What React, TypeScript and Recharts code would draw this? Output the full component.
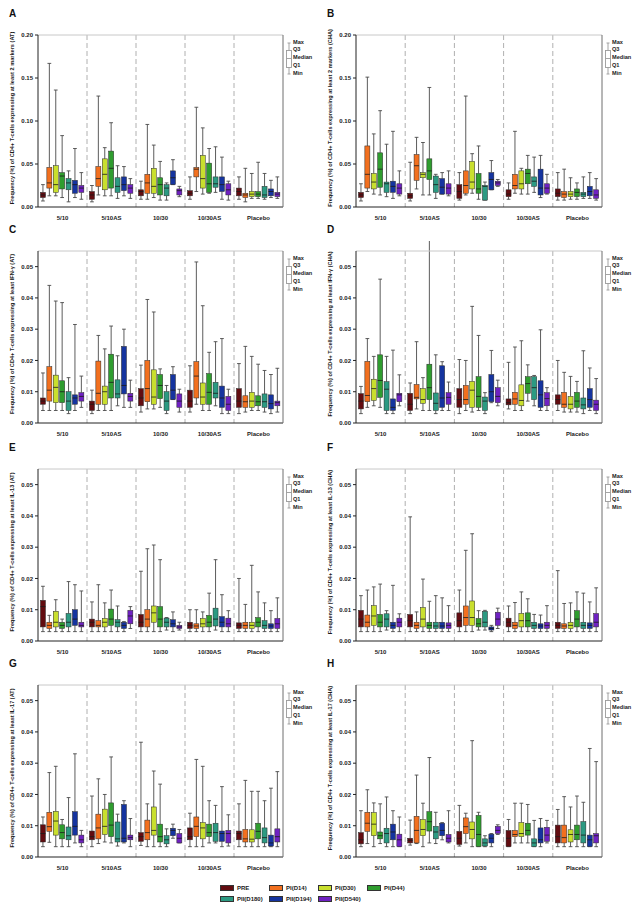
import { Bar, BarChart, CartesianGrid, XAxis, YAxis } from "recharts";

// [min, Q1, median, Q3, max]
type Box = [number, number, number, number, number];

const GROUPS = ["5/10", "5/10AS", "10/30", "10/30AS", "Placebo"];
const TIMEPOINTS = ["PRE", "PI(D14)", "PI(D30)", "PI(D44)", "PII(D180)", "PII(D194)", "PII(D540)"];
const COLORS = ["#620c10", "#f2701f", "#c9df2e", "#2f9d2f", "#2c9a82", "#15349f", "#6f21c2"];

const MARKER_TICKS = [0, 0.05, 0.1, 0.15, 0.2];
const CYTO_TICKS = [0, 0.01, 0.02, 0.03, 0.04, 0.05];

const TITLES = [
  "Frequency (%) of CD4+ T-cells expressing at least 2 markers (AT)",
  "Frequency (%) of CD4+ T-cells expressing at least 2 markers (CHA)",
  "Frequency (%) of CD4+ T-cells expressing at least IFN-γ (AT)",
  "Frequency (%) of CD4+ T-cells expressing at least IFN-γ (CHA)",
  "Frequency (%) of CD4+ T-cells expressing at least IL-13 (AT)",
  "Frequency (%) of CD4+ T-cells expressing at least IL-13 (CHA)",
  "Frequency (%) of CD4+ T-cells expressing at least IL-17 (AT)",
  "Frequency (%) of CD4+ T-cells expressing at least IL-17 (CHA)",
];
const LETTERS = ["A", "B", "C", "D", "E", "F", "G", "H"];

// each panel: 5 groups x 7 timepoints
const PANEL_A: Box[][] = [
  [[0.007, 0.011, 0.014, 0.017, 0.026], [0.013, 0.022, 0.028, 0.046, 0.167], [0.013, 0.017, 0.026, 0.048, 0.136], [0.011, 0.021, 0.036, 0.04, 0.083], [0.006, 0.02, 0.028, 0.033, 0.042], [0.011, 0.016, 0.026, 0.031, 0.068], [0.009, 0.017, 0.022, 0.025, 0.04]],
  [[0.006, 0.009, 0.014, 0.018, 0.025], [0.014, 0.024, 0.033, 0.047, 0.129], [0.013, 0.02, 0.038, 0.056, 0.069], [0.013, 0.022, 0.045, 0.065, 0.098], [0.01, 0.017, 0.024, 0.034, 0.048], [0.013, 0.019, 0.026, 0.035, 0.047], [0.01, 0.016, 0.022, 0.026, 0.033]],
  [[0.009, 0.013, 0.018, 0.02, 0.03], [0.009, 0.016, 0.028, 0.038, 0.096], [0.011, 0.016, 0.024, 0.045, 0.072], [0.008, 0.014, 0.026, 0.034, 0.053], [0.008, 0.013, 0.022, 0.026, 0.028], [0.026, 0.026, 0.034, 0.042, 0.055], [0.012, 0.014, 0.019, 0.021, 0.024]],
  [[0.009, 0.013, 0.016, 0.019, 0.035], [0.018, 0.035, 0.044, 0.046, 0.116], [0.015, 0.022, 0.033, 0.06, 0.092], [0.016, 0.017, 0.027, 0.051, 0.068], [0.017, 0.023, 0.027, 0.035, 0.07], [0.009, 0.018, 0.026, 0.035, 0.058], [0.008, 0.014, 0.02, 0.027, 0.03]],
  [[0.009, 0.013, 0.018, 0.022, 0.035], [0.006, 0.011, 0.014, 0.016, 0.045], [0.01, 0.012, 0.015, 0.018, 0.039], [0.01, 0.012, 0.015, 0.018, 0.052], [0.009, 0.011, 0.014, 0.024, 0.039], [0.011, 0.013, 0.018, 0.021, 0.031], [0.01, 0.012, 0.015, 0.017, 0.035]],
];

const PANEL_B: Box[][] = [
  [[0.007, 0.011, 0.014, 0.017, 0.027], [0.018, 0.022, 0.038, 0.071, 0.151], [0.015, 0.021, 0.029, 0.039, 0.085], [0.014, 0.023, 0.044, 0.063, 0.112], [0.012, 0.017, 0.027, 0.029, 0.073], [0.01, 0.017, 0.024, 0.03, 0.088], [0.013, 0.015, 0.022, 0.027, 0.042]],
  [[0.007, 0.01, 0.013, 0.016, 0.052], [0.021, 0.031, 0.048, 0.061, 0.081], [0.014, 0.034, 0.038, 0.04, 0.075], [0.014, 0.032, 0.042, 0.056, 0.139], [0.01, 0.017, 0.026, 0.036, 0.038], [0.015, 0.015, 0.023, 0.033, 0.04], [0.013, 0.015, 0.022, 0.027, 0.042]],
  [[0.008, 0.01, 0.018, 0.026, 0.04], [0.014, 0.016, 0.025, 0.042, 0.129], [0.016, 0.021, 0.029, 0.053, 0.062], [0.009, 0.016, 0.021, 0.039, 0.071], [0.008, 0.008, 0.024, 0.025, 0.029], [0.02, 0.02, 0.032, 0.04, 0.054], [0.024, 0.025, 0.028, 0.03, 0.032]],
  [[0.009, 0.012, 0.015, 0.02, 0.028], [0.016, 0.021, 0.025, 0.038, 0.088], [0.015, 0.021, 0.027, 0.042, 0.045], [0.015, 0.027, 0.039, 0.044, 0.06], [0.017, 0.024, 0.03, 0.035, 0.058], [0.011, 0.014, 0.022, 0.044, 0.06], [0.015, 0.016, 0.022, 0.027, 0.038]],
  [[0.008, 0.012, 0.016, 0.021, 0.04], [0.008, 0.011, 0.015, 0.018, 0.044], [0.009, 0.012, 0.015, 0.018, 0.034], [0.009, 0.012, 0.017, 0.021, 0.028], [0.01, 0.012, 0.015, 0.017, 0.035], [0.01, 0.013, 0.018, 0.024, 0.04], [0.008, 0.01, 0.014, 0.02, 0.033]],
];

const PANEL_C: Box[][] = [
  [[0.004, 0.006, 0.007, 0.008, 0.016], [0.004, 0.007, 0.0105, 0.018, 0.044], [0.004, 0.0065, 0.0114, 0.0153, 0.039], [0.004, 0.0065, 0.01, 0.0135, 0.0385], [0.003, 0.004, 0.007, 0.01, 0.0145], [0.004, 0.006, 0.008, 0.009, 0.0315], [0.005, 0.007, 0.0085, 0.0097, 0.015]],
  [[0.003, 0.004, 0.006, 0.007, 0.0105], [0.004, 0.006, 0.0095, 0.0198, 0.028], [0.004, 0.006, 0.01, 0.0118, 0.0237], [0.004, 0.008, 0.013, 0.022, 0.031], [0.0055, 0.008, 0.0093, 0.0138, 0.0215], [0.005, 0.0093, 0.012, 0.0245, 0.03], [0.005, 0.007, 0.0085, 0.0095, 0.0137]],
  [[0.0035, 0.0055, 0.008, 0.011, 0.0185], [0.0045, 0.0068, 0.011, 0.02, 0.0395], [0.0045, 0.006, 0.0083, 0.017, 0.0355], [0.005, 0.0078, 0.012, 0.0155, 0.0173], [0.003, 0.004, 0.007, 0.01, 0.012], [0.0075, 0.0075, 0.0105, 0.0155, 0.018], [0.0035, 0.005, 0.007, 0.0093, 0.0108]],
  [[0.0035, 0.005, 0.007, 0.0105, 0.0183], [0.006, 0.008, 0.015, 0.0196, 0.0515], [0.004, 0.006, 0.0083, 0.0128, 0.0375], [0.004, 0.006, 0.0098, 0.0158, 0.0226], [0.0055, 0.008, 0.0095, 0.013, 0.026], [0.003, 0.005, 0.008, 0.0118, 0.027], [0.003, 0.004, 0.006, 0.0085, 0.0108]],
  [[0.003, 0.005, 0.007, 0.011, 0.019], [0.0035, 0.005, 0.0068, 0.0087, 0.0245], [0.004, 0.005, 0.007, 0.0098, 0.0213], [0.004, 0.0055, 0.0068, 0.0087, 0.0188], [0.0035, 0.005, 0.0068, 0.0093, 0.0168], [0.003, 0.0045, 0.0062, 0.009, 0.0155], [0.0035, 0.0055, 0.0065, 0.007, 0.0175]],
];

const PANEL_D: Box[][] = [
  [[0.003, 0.0045, 0.007, 0.0094, 0.0117], [0.005, 0.0068, 0.0088, 0.0197, 0.027], [0.0055, 0.0072, 0.011, 0.014, 0.0213], [0.005, 0.0082, 0.0136, 0.0218, 0.046], [0.003, 0.004, 0.0108, 0.0132, 0.0213], [0.003, 0.004, 0.005, 0.0077, 0.0233], [0.0055, 0.0068, 0.009, 0.0095, 0.0154]],
  [[0.003, 0.004, 0.006, 0.0095, 0.0128], [0.0045, 0.0077, 0.0082, 0.0123, 0.026], [0.004, 0.0063, 0.0075, 0.011, 0.0145], [0.004, 0.0075, 0.0113, 0.0188, 0.0643], [0.003, 0.004, 0.0063, 0.0096, 0.0218], [0.004, 0.005, 0.008, 0.0183, 0.0196], [0.004, 0.006, 0.0082, 0.0097, 0.0131]],
  [[0.003, 0.005, 0.0075, 0.011, 0.0203], [0.004, 0.006, 0.0075, 0.012, 0.02], [0.0035, 0.005, 0.0105, 0.0133, 0.0373], [0.004, 0.005, 0.0085, 0.0148, 0.028], [0.003, 0.004, 0.007, 0.0083, 0.0097], [0.0065, 0.0068, 0.01, 0.0155, 0.0232], [0.0055, 0.0065, 0.0085, 0.0113, 0.0137]],
  [[0.0045, 0.0058, 0.0065, 0.0077, 0.0194], [0.004, 0.006, 0.0077, 0.0098, 0.0243], [0.004, 0.0055, 0.0072, 0.0122, 0.0263], [0.007, 0.0095, 0.0126, 0.0148, 0.0186], [0.0055, 0.0075, 0.0113, 0.0148, 0.0152], [0.004, 0.005, 0.009, 0.0135, 0.0298], [0.004, 0.0055, 0.0078, 0.0097, 0.0113]],
  [[0.004, 0.006, 0.0075, 0.009, 0.02], [0.0035, 0.005, 0.006, 0.0098, 0.0162], [0.0035, 0.0045, 0.006, 0.0085, 0.0149], [0.0035, 0.005, 0.007, 0.0098, 0.0133], [0.003, 0.0045, 0.0058, 0.008, 0.0231], [0.004, 0.005, 0.0075, 0.011, 0.0176], [0.003, 0.004, 0.006, 0.0073, 0.0142]],
];

const PANEL_E: Box[][] = [
  [[0.003, 0.0045, 0.011, 0.013, 0.0175], [0.003, 0.004, 0.005, 0.006, 0.0082], [0.003, 0.0045, 0.006, 0.0095, 0.0132], [0.003, 0.004, 0.005, 0.006, 0.007], [0.003, 0.0045, 0.006, 0.0088, 0.019], [0.003, 0.005, 0.007, 0.01, 0.018], [0.003, 0.0045, 0.005, 0.006, 0.016]],
  [[0.003, 0.0045, 0.006, 0.007, 0.0125], [0.003, 0.0045, 0.005, 0.0065, 0.018], [0.003, 0.0045, 0.006, 0.0072, 0.0122], [0.003, 0.005, 0.007, 0.0102, 0.0163], [0.003, 0.0045, 0.006, 0.0068, 0.0112], [0.003, 0.004, 0.005, 0.006, 0.0062], [0.004, 0.0055, 0.008, 0.0098, 0.011]],
  [[0.003, 0.0045, 0.006, 0.0085, 0.0223], [0.003, 0.0045, 0.007, 0.01, 0.0295], [0.003, 0.006, 0.009, 0.0112, 0.0307], [0.003, 0.0045, 0.007, 0.011, 0.026], [0.0035, 0.0045, 0.006, 0.0073, 0.0075], [0.003, 0.0045, 0.0055, 0.0068, 0.0093], [0.0035, 0.004, 0.0045, 0.005, 0.006]],
  [[0.003, 0.004, 0.005, 0.006, 0.01], [0.003, 0.004, 0.0048, 0.0055, 0.01], [0.003, 0.0045, 0.0055, 0.0072, 0.0093], [0.003, 0.0045, 0.006, 0.0082, 0.0153], [0.0035, 0.0048, 0.007, 0.0105, 0.026], [0.003, 0.0045, 0.006, 0.0078, 0.0148], [0.003, 0.0045, 0.0055, 0.0073, 0.0097]],
  [[0.003, 0.004, 0.005, 0.0058, 0.02], [0.003, 0.004, 0.005, 0.006, 0.0117], [0.003, 0.004, 0.005, 0.006, 0.0242], [0.003, 0.0045, 0.006, 0.0075, 0.0157], [0.003, 0.004, 0.005, 0.0065, 0.0122], [0.003, 0.004, 0.0048, 0.0055, 0.0097], [0.003, 0.004, 0.0055, 0.0072, 0.0138]],
];

const PANEL_F: Box[][] = [
  [[0.003, 0.0045, 0.007, 0.0098, 0.0145], [0.003, 0.0045, 0.006, 0.0083, 0.0163], [0.003, 0.005, 0.008, 0.0113, 0.0173], [0.003, 0.0045, 0.006, 0.0085, 0.0182], [0.0035, 0.0045, 0.007, 0.0087, 0.0097], [0.003, 0.004, 0.005, 0.006, 0.0178], [0.003, 0.0045, 0.006, 0.0073, 0.0087]],
  [[0.003, 0.0045, 0.0065, 0.0085, 0.0397], [0.003, 0.004, 0.005, 0.006, 0.0093], [0.003, 0.0045, 0.007, 0.0107, 0.0198], [0.003, 0.004, 0.005, 0.006, 0.0127], [0.003, 0.004, 0.0048, 0.006, 0.0145], [0.003, 0.004, 0.0048, 0.006, 0.0138], [0.003, 0.004, 0.005, 0.0058, 0.0113]],
  [[0.003, 0.0045, 0.0065, 0.009, 0.0163], [0.003, 0.005, 0.0075, 0.0112, 0.029], [0.003, 0.005, 0.0075, 0.0128, 0.0343], [0.0035, 0.0045, 0.0055, 0.0072, 0.0097], [0.0035, 0.0045, 0.006, 0.0095, 0.0098], [0.003, 0.0035, 0.004, 0.0045, 0.005], [0.004, 0.005, 0.007, 0.0092, 0.0105]],
  [[0.003, 0.0045, 0.006, 0.0073, 0.0112], [0.003, 0.004, 0.005, 0.006, 0.0123], [0.003, 0.0045, 0.0065, 0.0088, 0.0157], [0.003, 0.0045, 0.0065, 0.009, 0.0135], [0.003, 0.004, 0.005, 0.006, 0.0085], [0.003, 0.004, 0.0048, 0.0055, 0.0083], [0.003, 0.004, 0.005, 0.006, 0.0113]],
  [[0.003, 0.004, 0.005, 0.006, 0.0225], [0.003, 0.004, 0.0048, 0.0055, 0.012], [0.003, 0.004, 0.005, 0.006, 0.0122], [0.003, 0.0045, 0.007, 0.0097, 0.0157], [0.003, 0.004, 0.005, 0.006, 0.0153], [0.003, 0.004, 0.005, 0.0058, 0.0125], [0.003, 0.0045, 0.006, 0.0088, 0.017]],
];

const PANEL_G: Box[][] = [
  [[0.0033, 0.0048, 0.0075, 0.0103, 0.0128], [0.0047, 0.0082, 0.0097, 0.0143, 0.027], [0.0033, 0.007, 0.0115, 0.0146, 0.029], [0.0033, 0.0058, 0.0078, 0.0103, 0.012], [0.0033, 0.0055, 0.0068, 0.0096, 0.019], [0.0045, 0.007, 0.0098, 0.0145, 0.033], [0.0033, 0.0045, 0.0055, 0.007, 0.0085]],
  [[0.0033, 0.0055, 0.0065, 0.0083, 0.0195], [0.0043, 0.0058, 0.0093, 0.0137, 0.025], [0.0048, 0.0072, 0.0098, 0.0153, 0.02], [0.0045, 0.0065, 0.0102, 0.0173, 0.032], [0.0035, 0.0048, 0.0058, 0.0112, 0.0137], [0.0045, 0.0048, 0.006, 0.0168, 0.018], [0.0033, 0.0055, 0.0062, 0.007, 0.0123]],
  [[0.0037, 0.005, 0.0065, 0.0078, 0.0367], [0.0033, 0.0055, 0.0078, 0.0118, 0.017], [0.0033, 0.007, 0.0085, 0.016, 0.0275], [0.0033, 0.0048, 0.0065, 0.0105, 0.0233], [0.0033, 0.0042, 0.0055, 0.0068, 0.009], [0.006, 0.0068, 0.0085, 0.0092, 0.0105], [0.0045, 0.0045, 0.006, 0.0075, 0.0088]],
  [[0.0033, 0.0055, 0.0065, 0.0093, 0.014], [0.0033, 0.0065, 0.0098, 0.0128, 0.0312], [0.0033, 0.0058, 0.0093, 0.011, 0.029], [0.0045, 0.0065, 0.0078, 0.0105, 0.018], [0.0045, 0.005, 0.0078, 0.0108, 0.0165], [0.0033, 0.005, 0.0075, 0.0083, 0.0225], [0.0035, 0.0045, 0.0075, 0.0085, 0.0135]],
  [[0.0033, 0.0055, 0.0075, 0.0083, 0.017], [0.0033, 0.0048, 0.0058, 0.0088, 0.0245], [0.0033, 0.0048, 0.0057, 0.0087, 0.021], [0.0033, 0.0058, 0.0082, 0.0108, 0.021], [0.0033, 0.0045, 0.0062, 0.0093, 0.018], [0.0033, 0.0035, 0.0045, 0.007, 0.022], [0.0033, 0.0048, 0.0065, 0.009, 0.0273]],
];

const PANEL_H: Box[][] = [
  [[0.0033, 0.0042, 0.0055, 0.0078, 0.0148], [0.0043, 0.0082, 0.0108, 0.0143, 0.0215], [0.0033, 0.0068, 0.0105, 0.0142, 0.0173], [0.0043, 0.0058, 0.0068, 0.008, 0.017], [0.0033, 0.0045, 0.0075, 0.0092, 0.0192], [0.0033, 0.0055, 0.008, 0.0105, 0.0148], [0.0033, 0.0033, 0.0055, 0.0073, 0.0128]],
  [[0.0038, 0.0045, 0.0053, 0.006, 0.0118], [0.0043, 0.0045, 0.0085, 0.013, 0.0262], [0.0033, 0.0068, 0.0088, 0.012, 0.0172], [0.0045, 0.0083, 0.0113, 0.0145, 0.0318], [0.0043, 0.0058, 0.008, 0.0098, 0.0143], [0.0055, 0.0068, 0.0085, 0.0108, 0.011], [0.0045, 0.0048, 0.006, 0.0072, 0.0148]],
  [[0.0035, 0.004, 0.006, 0.0082, 0.0165], [0.0045, 0.0075, 0.0097, 0.0125, 0.014], [0.0033, 0.0058, 0.0088, 0.0112, 0.0372], [0.0033, 0.0033, 0.0072, 0.0133, 0.0143], [0.0033, 0.0035, 0.0045, 0.0058, 0.0068], [0.0033, 0.0045, 0.006, 0.0073, 0.0075], [0.0072, 0.0075, 0.0085, 0.0098, 0.0103]],
  [[0.0033, 0.0033, 0.006, 0.0085, 0.012], [0.0045, 0.0065, 0.0072, 0.0085, 0.0172], [0.0045, 0.0065, 0.0075, 0.011, 0.0172], [0.0045, 0.007, 0.0085, 0.0108, 0.0168], [0.0033, 0.0033, 0.0045, 0.0058, 0.0117], [0.0033, 0.0045, 0.0055, 0.0093, 0.0123], [0.0045, 0.005, 0.007, 0.0095, 0.0117]],
  [[0.0033, 0.0045, 0.0065, 0.0102, 0.0152], [0.0033, 0.0045, 0.0062, 0.0102, 0.0193], [0.0033, 0.0048, 0.0072, 0.0087, 0.016], [0.0033, 0.0055, 0.0072, 0.0102, 0.0195], [0.0033, 0.0045, 0.007, 0.0113, 0.0175], [0.0033, 0.0033, 0.0055, 0.007, 0.0347], [0.0033, 0.0045, 0.0068, 0.0075, 0.0305]],
];

const PANELS = [PANEL_A, PANEL_B, PANEL_C, PANEL_D, PANEL_E, PANEL_F, PANEL_G, PANEL_H];

const FONT = "'Liberation Sans', Arial, Helvetica, sans-serif";
const ROW_TOPS = [35, 251, 469, 685]; // plot-area tops
const PLOT_H = 172;
const CHART_W = 300;

// The range bar spans [min, min(max, top of axis)]; anything above the axis
// top is extrapolated from the same linear scale so long whiskers can poke out.
function BoxShape(props: any) {
  const { x, y, width, height, payload, si, yMax } = props;
  const b: Box = payload.boxes[si];
  const [mn, q1, md, q3, mx] = b;
  const hi = Math.min(mx, yMax);
  const top = Math.min(y, y + height);
  const bot = Math.max(y, y + height);
  const span = hi - mn || 1;
  const py = (v: number) => bot - ((v - mn) / span) * (bot - top);
  const cx = x + width / 2;
  const cap = width * 0.75;
  const wc = "#4a4a4a";
  return (
    <g>
      <line x1={cx} x2={cx} y1={py(mx)} y2={py(q3)} stroke={wc} strokeWidth={0.9} />
      <line x1={cx} x2={cx} y1={py(q1)} y2={py(mn)} stroke={wc} strokeWidth={0.9} />
      <line x1={cx - cap / 2} x2={cx + cap / 2} y1={py(mx)} y2={py(mx)} stroke={wc} strokeWidth={0.9} />
      <line x1={cx - cap / 2} x2={cx + cap / 2} y1={py(mn)} y2={py(mn)} stroke={wc} strokeWidth={0.9} />
      <rect x={x} y={py(q3)} width={width} height={Math.max(py(q1) - py(q3), 0.5)} fill={COLORS[si]} stroke="#262626" strokeWidth={0.5} />
      <line x1={x} x2={x + width} y1={py(md)} y2={py(md)} stroke="#1a1a1a" strokeWidth={0.8} />
    </g>
  );
}

function KeyBox({ left, top }: { left: number; top: number }) {
  const labels = ["Max", "Q3", "Median", "Q1", "Min"];
  return (
    <div style={{ position: "absolute", left, top, width: 34, height: 40, background: "#fff" }}>
      <svg width={8} height={40} style={{ position: "absolute", left: 0, top: 0 }}>
        <line x1={3} x2={3} y1={1} y2={32} stroke="#9a9a9a" strokeWidth={0.9} />
        <line x1={1.5} x2={4.5} y1={1} y2={1} stroke="#9a9a9a" strokeWidth={0.9} />
        <line x1={1.5} x2={4.5} y1={32} y2={32} stroke="#9a9a9a" strokeWidth={0.9} />
        <rect x={0.5} y={8.5} width={5} height={17} fill="#fff" stroke="#9a9a9a" strokeWidth={0.9} />
        <line x1={0.5} x2={5.5} y1={16.5} y2={16.5} stroke="#9a9a9a" strokeWidth={0.9} />
      </svg>
      {labels.map((l, i) => (
        <div
          key={l}
          style={{
            position: "absolute",
            left: 7,
            top: i * 7.9 - 3.5,
            fontFamily: FONT,
            fontWeight: 700,
            fontSize: 5.6,
            lineHeight: "7px",
            color: "#222",
            whiteSpace: "nowrap",
          }}
        >
          {l}
        </div>
      ))}
    </div>
  );
}

function Panel({ index }: { index: number }) {
  const col = index % 2;
  const row = Math.floor(index / 2);
  const boxes = PANELS[index];
  const isMarker = row === 0;
  const ticks = isMarker ? MARKER_TICKS : CYTO_TICKS;
  const yMax = isMarker ? 0.2 : 0.055;
  const data = GROUPS.map((g, gi) => ({ group: g, boxes: boxes[gi] }));
  const left = col === 0 ? 0 : 320;
  const marginLeft = col === 0 ? 8 : 6;
  const marginRight = col === 0 ? 16 : 17;
  const plotTop = ROW_TOPS[row];
  const chartTop = plotTop - 10;
  const plotRight = left + CHART_W - marginRight - 1;
  const title = TITLES[index];

  return (
    <>
      <div
        style={{
          position: "absolute",
          left: col === 0 ? 9 : 327,
          top: plotTop - 27,
          fontFamily: FONT,
          fontWeight: 700,
          fontSize: 10,
          color: "#111",
        }}
      >
        {LETTERS[index]}
      </div>
      <div style={{ position: "absolute", left, top: chartTop }}>
        <BarChart
          width={CHART_W}
          height={10 + PLOT_H + 20}
          data={data}
          margin={{ top: 9, right: marginRight, bottom: 0, left: marginLeft }}
          barCategoryGap="5%"
          barGap={1.4}
          style={{ overflow: "visible" }}
        >
          <CartesianGrid
            horizontal={false}
            stroke="#9c9c9c"
            strokeDasharray="5 3"
            strokeWidth={0.8}
            verticalCoordinatesGenerator={({ offset }: any) =>
              GROUPS.slice(1).map((_, i) => offset.left + ((i + 1) * offset.width) / GROUPS.length)
            }
          />
          <XAxis
            dataKey="group"
            height={20}
            tickLine={false}
            axisLine={{ stroke: "#222", strokeWidth: 1 }}
            tickMargin={3}
            tick={{ fontSize: 6, fontWeight: 700, fill: "#1a1a1a", fontFamily: FONT }}
          />
          <XAxis
            xAxisId="frame"
            orientation="top"
            dataKey="group"
            height={1}
            tick={false}
            tickLine={false}
            axisLine={{ stroke: "#c8c8c8", strokeWidth: 1 }}
          />
          <YAxis
            width={30}
            domain={[0, yMax]}
            ticks={ticks}
            interval={0}
            tickFormatter={(v: number) => v.toFixed(2)}
            tickSize={3}
            tickMargin={2}
            axisLine={{ stroke: "#222", strokeWidth: 1 }}
            tickLine={{ stroke: "#222" }}
            tick={{ fontSize: 6, fontWeight: 700, fill: "#1a1a1a", fontFamily: FONT }}
            label={{
              content: (lp: any) => {
                const vb = lp.viewBox || { x: 0, y: 0, width: 0, height: 0 };
                const tx = vb.x + 5;
                const ty = vb.y + vb.height / 2 - 3;
                return (
                  <text
                    x={tx}
                    y={ty}
                    transform={`rotate(-90 ${tx} ${ty})`}
                    textAnchor="middle"
                    dominantBaseline="middle"
                    fontSize={5.6}
                    fontWeight={700}
                    fontFamily={FONT}
                    fill="#1a1a1a"
                  >
                    {title}
                  </text>
                );
              },
            }}
          />
          <YAxis
            yAxisId="frame"
            orientation="right"
            width={1}
            domain={[0, 1]}
            tick={false}
            tickLine={false}
            axisLine={{ stroke: "#6e6e6e", strokeWidth: 1 }}
          />
          {TIMEPOINTS.map((tp, si) => (
            <Bar
              key={tp}
              name={tp}
              dataKey={(d: any) => [d.boxes[si][0], Math.min(d.boxes[si][4], yMax)]}
              fill={COLORS[si]}
              isAnimationActive={false}
              shape={(p: any) => <BoxShape {...p} si={si} yMax={yMax} />}
            />
          ))}
        </BarChart>
      </div>
      <KeyBox left={plotRight + 3} top={plotTop + 7} />
    </>
  );
}

export default function App() {
  return (
    <div style={{ position: "relative", width: 641, height: 912, margin: -8, background: "#fff", overflow: "hidden" }}>
      <div
        style={{
          position: "absolute",
          left: 1,
          top: 1,
          width: 636,
          height: 907,
          border: "1px solid #b5b5b5",
          borderRadius: 3,
        }}
      />
      {PANELS.map((_, i) => (
        <Panel key={i} index={i} />
      ))}
      {TIMEPOINTS.map((tp, i) => (
        <div
          key={tp}
          style={{
            position: "absolute",
            left: 220 + (i % 4) * 49,
            top: i < 4 ? 885 : 896,
            display: "flex",
            alignItems: "center",
            fontFamily: FONT,
            fontWeight: 700,
            fontSize: 6,
            color: "#1a1a1a",
            whiteSpace: "nowrap",
          }}
        >
          <span
            style={{
              display: "inline-block",
              width: 14,
              height: 6,
              background: COLORS[i],
              border: "0.5px solid #333",
              marginRight: 3,
              boxSizing: "border-box",
            }}
          />
          {tp}
        </div>
      ))}
    </div>
  );
}
